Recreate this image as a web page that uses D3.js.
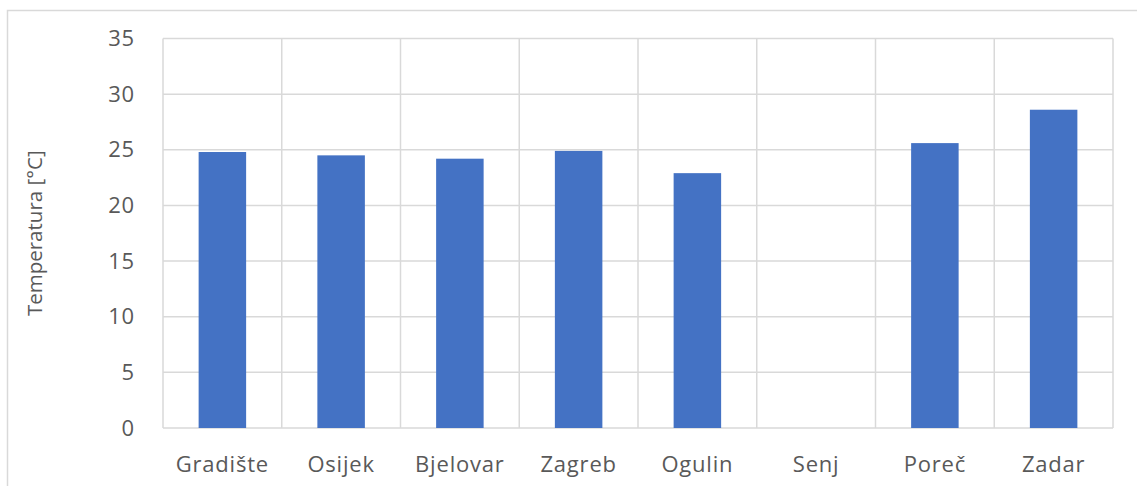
<!DOCTYPE html>
<html>
<head>
<meta charset="utf-8">
<script src="https://cdn.jsdelivr.net/npm/d3@7"></script>
<style>
  body { margin: 0; background: #fff; }
  svg { display: block; font-family: "Open Sans", "Noto Sans", sans-serif; }
</style>
</head>
<body>
<svg width="1137" height="486"></svg>
<script>
const cities = ["Gradište", "Osijek", "Bjelovar", "Zagreb", "Ogulin", "Senj", "Poreč", "Zadar"];
const temps = [24.8, 24.5, 24.2, 24.9, 22.9, null, 25.6, 28.6];
const yTicks = [0, 5, 10, 15, 20, 25, 30, 35];

const svg = d3.select("svg");
const grid = "#d9d9d9";
const textCol = "#595959";

// outer chart frame (runs off the right/bottom edge like the screenshot)
svg.append("rect")
  .attr("x", 7.5).attr("y", 10.5)
  .attr("width", 1140).attr("height", 490)
  .attr("fill", "none").attr("stroke", grid).attr("stroke-width", 1.5);

const m = { left: 163, right: 1113, top: 38.5, bottom: 428 };

const x = d3.scaleBand().domain(cities).range([m.left, m.right]).paddingInner(0).paddingOuter(0);
const y = d3.scaleLinear().domain([0, 35]).range([m.bottom, m.top]);

const g = svg.append("g");

// horizontal gridlines
g.selectAll("line.h")
  .data(yTicks)
  .enter()
  .append("line")
  .attr("x1", m.left).attr("x2", m.right)
  .attr("y1", d => y(d)).attr("y2", d => y(d))
  .attr("stroke", grid).attr("stroke-width", 1.5);

// vertical separators between categories
const seps = cities.map(c => x(c)).concat([m.right]);
g.selectAll("line.v")
  .data(seps)
  .enter()
  .append("line")
  .attr("x1", d => d).attr("x2", d => d)
  .attr("y1", m.top).attr("y2", m.bottom)
  .attr("stroke", grid).attr("stroke-width", 1.5);

// bars
const bw = x.bandwidth() * 0.4;
g.selectAll("rect.bar")
  .data(cities.map((c, i) => ({ c, v: temps[i] })).filter(d => d.v != null))
  .enter()
  .append("rect")
  .attr("x", d => x(d.c) + (x.bandwidth() - bw) / 2)
  .attr("width", bw)
  .attr("y", d => y(d.v))
  .attr("height", d => y(0) - y(d.v))
  .attr("fill", "#4472c4");

// y tick labels
g.selectAll("text.yt")
  .data(yTicks)
  .enter()
  .append("text")
  .attr("x", 135)
  .attr("y", d => y(d))
  .attr("dy", "0.35em")
  .attr("text-anchor", "end")
  .attr("font-size", 22)
  .attr("letter-spacing", 0.8)
  .attr("fill", textCol)
  .text(d => d);

// x labels
g.selectAll("text.xt")
  .data(cities)
  .enter()
  .append("text")
  .attr("x", d => x(d) + x.bandwidth() / 2)
  .attr("y", 464)
  .attr("dy", "0.35em")
  .attr("text-anchor", "middle")
  .attr("font-size", 22)
  .attr("letter-spacing", 0.8)
  .attr("fill", textCol)
  .text(d => d);

// axis title
svg.append("text")
  .attr("transform", `translate(35,${(m.top + m.bottom) / 2}) rotate(-90)`)
  .attr("dy", "0.35em")
  .attr("text-anchor", "middle")
  .attr("font-size", 20.5)
  .attr("fill", textCol)
  .text("Temperatura [°C]");
</script>
</body>
</html>
